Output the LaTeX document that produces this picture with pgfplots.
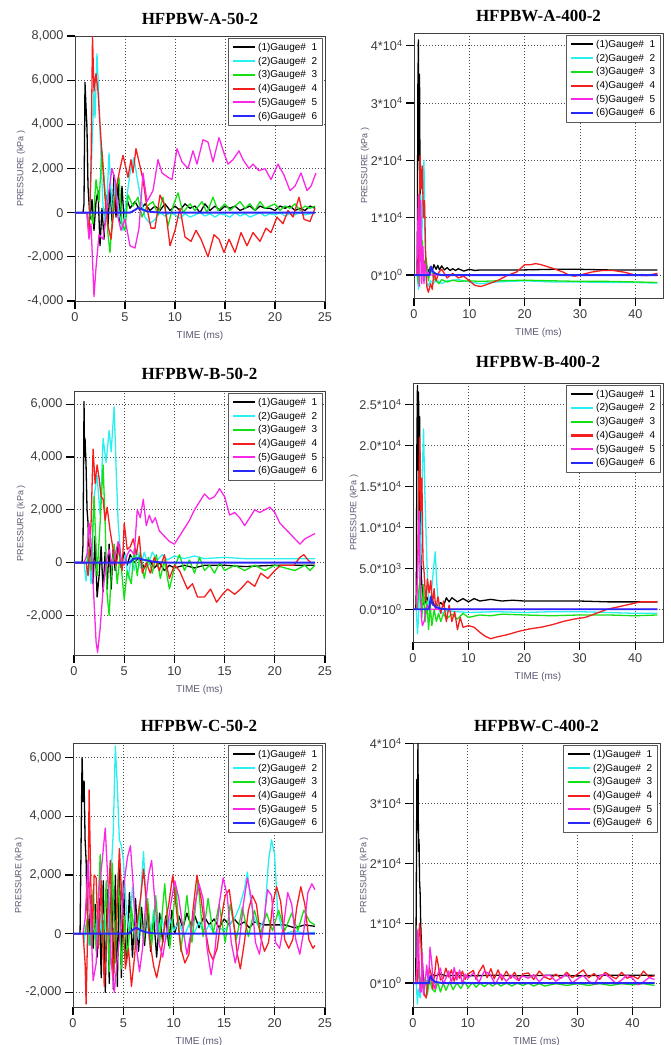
\documentclass[border=0pt]{standalone}
\usepackage{fontspec}
\setmainfont{Liberation Sans}
\newfontfamily\titlefont{Liberation Serif}
\usepackage{pgfplots}
\pgfplotsset{compat=1.18}

\definecolor{gcyan}{RGB}{40,240,240}
\definecolor{ggreen}{RGB}{20,225,20}
\definecolor{gred}{RGB}{245,30,30}
\definecolor{gmag}{RGB}{250,40,230}
\definecolor{gblue}{RGB}{40,40,250}
\definecolor{labcol}{RGB}{95,88,115}
\definecolor{tickcol}{RGB}{60,60,60}

\tikzset{
  g1/.style={black, line width=1.3pt},
  g2/.style={gcyan, line width=1.3pt},
  g3/.style={ggreen, line width=1.3pt},
  g4/.style={gred, line width=1.3pt},
  g5/.style={gmag, line width=1.3pt},
  g6/.style={gblue, line width=1.9pt},
}

\pgfplotsset{
  legend image code/.code={\draw[#1, line width=2.2pt] (0pt,0pt) -- (22pt,0pt);},
  every tick/.style={black, line width=1.2pt},
  panel/.style={
    scale only axis, anchor=north west,
    xmin=0, scaled y ticks=false, scaled x ticks=false,
    axis line style={black!75, line width=0.9pt},
    xtick pos=bottom, ytick pos=left, xtick align=outside, ytick align=outside,
    major tick length=8pt,
    grid=major, major grid style={black!70, line width=0.8pt, dash pattern=on 1pt off 2pt},
    ticklabel style={font=\fontsize{12.7}{14}\selectfont, text=tickcol},
    /pgf/number format/1000 sep={,}, /pgf/number format/assume math mode=true,
    title style={font=\titlefont\bfseries\fontsize{17}{18}\selectfont, at={(0.5,1)}, anchor=base, inner sep=0pt, yshift=6pt},
    xlabel={TIME (ms)},
    xlabel style={font=\fontsize{10}{11}\selectfont, text=labcol, at={(axis description cs:0.5,0)}, anchor=center, yshift=-35pt},
    ylabel={PRESSURE (kPa )},
    legend cell align=left,
    legend style={at={(0.992,0.992)}, anchor=north east, draw=black!65, line width=0.8pt, fill=white,
      font=\fontsize{10}{11}\selectfont, nodes={inner sep=2.5pt}},
    legend entries={(1)Gauge\#\ \ 1,(2)Gauge\#\ \ 2,(3)Gauge\#\ \ 3,(4)Gauge\#\ \ 4,(5)Gauge\#\ \ 5,(6)Gauge\#\ \ 6},
    no marks,
  },
  yl/.style={ylabel style={font=\fontsize{9}{10}\selectfont, text=labcol, at={(axis description cs:#1,0.5)}, anchor=center}},
  p50/.style={xmax=25, xtick={0,5,...,25}},
  p400/.style={xmax=45, xtick={0,10,...,40}},
}

\begin{document}
\begin{tikzpicture}[line join=round]
\path[use as bounding box] (0,0) rectangle (671pt,-1045pt);

% ---------------- HFPBW-A-50-2
\begin{axis}[panel, p50, yl=-0.216, at={(75pt,-36pt)}, width=250pt, height=265pt,
  ymin=-4000, ymax=8000, ytick={-4000,-2000,...,8000}, title={HFPBW-A-50-2}]
\addplot[g1] coordinates {(0,0)(0.8,0)(0.9,400)(1.0,5900)(1.1,4800)(1.2,3800)(1.3,1200)(1.5,-300)(1.7,600)(1.9,-800)(2.1,500)(2.3,1000)(2.5,-1500)(2.7,200)(2.9,-1200)(3.1,800)(3.3,-600)(3.5,1200)(3.7,-400)(3.9,1700)(4.1,-200)(4.3,1500)(4.5,-500)(4.7,1200)(4.9,-300)(5.2,600)(5.5,200)(6,500)(6.5,100)(7,400)(7.5,100)(8,300)(8.5,100)(9,400)(9.5,100)(10,300)(10.5,100)(11,400)(11.5,200)(12,300)(12.5,0)(13,400)(13.5,100)(14,300)(14.5,100)(15,300)(15.5,200)(16,300)(16.5,100)(17,200)(17.5,300)(18,100)(18.5,300)(19,200)(19.5,200)(20,100)(20.5,300)(21,200)(21.5,300)(22,100)(22.5,200)(23,100)(23.5,300)(24,200)};
\addplot[g2] coordinates {(0,0)(1.2,0)(1.3,-600)(1.5,300)(1.7,3000)(1.9,5500)(2.0,4300)(2.2,7200)(2.4,5000)(2.6,2500)(2.8,300)(3.0,-500)(3.2,600)(3.4,2700)(3.6,1000)(3.8,-300)(4.0,1500)(4.2,600)(4.5,-200)(4.8,-800)(5.1,400)(5.5,1800)(5.9,2500)(6.2,1600)(6.6,600)(7.0,-200)(7.5,-500)(8.0,-300)(8.5,0)(9,-150)(9.5,0)(10,-100)(10.5,-250)(11,-50)(11.5,-200)(12,-100)(12.5,0)(13,-150)(13.5,-50)(14,-200)(14.5,-50)(15,-100)(15.5,-200)(16,0)(16.5,-150)(17,-50)(17.5,-200)(18,-100)(18.5,0)(19,-150)(19.5,-50)(20,-100)(20.5,0)(21,-150)(21.5,-50)(22,-100)(22.5,0)(23,-100)(23.5,-50)(24,0)};
\addplot[g3] coordinates {(0,0)(1.5,0)(1.8,-500)(2.1,1500)(2.4,500)(2.7,2800)(3.0,1000)(3.3,-1000)(3.5,-1800)(3.8,200)(4.1,1000)(4.4,1600)(4.7,-500)(5.0,-800)(5.3,800)(5.8,300)(6.3,700)(6.7,-200)(7.2,300)(7.8,500)(8.3,-100)(8.8,700)(9.3,-600)(9.8,300)(10.3,900)(10.8,0)(11.5,400)(12,100)(12.7,500)(13.2,0)(13.8,700)(14.3,100)(15,400)(15.5,100)(16,300)(16.5,500)(17,200)(17.5,400)(18,100)(18.5,500)(19,200)(19.5,300)(20,400)(20.5,100)(21,300)(21.5,200)(22,400)(22.5,100)(23,300)(23.5,200)(24,300)};
\addplot[g4] coordinates {(0,0)(1.2,0)(1.4,-1100)(1.6,2000)(1.75,8000)(1.9,5500)(2.1,6300)(2.3,5500)(2.5,4000)(2.8,2000)(3.0,700)(3.3,-600)(3.6,-1200)(3.9,200)(4.2,1300)(4.5,2000)(4.8,2600)(5.0,2200)(5.3,1600)(5.6,2400)(5.8,1800)(6.1,2900)(6.4,2300)(6.8,1500)(7.2,200)(7.6,-700)(8.0,-700)(8.5,800)(9.0,300)(9.5,-1500)(10,-800)(10.5,200)(11,-1100)(11.6,-1300)(12.1,-800)(12.6,-1200)(13.3,-2000)(13.9,-1000)(14.4,-1200)(14.9,-1800)(15.4,-1200)(16,-1800)(16.6,-900)(17.2,-1500)(17.8,-900)(18.5,-1300)(19.1,-700)(19.6,-900)(20.2,-200)(20.8,-500)(21.3,100)(21.8,-200)(22.4,700)(22.9,-300)(23.5,-400)(24,200)};
\addplot[g5] coordinates {(0,0)(1.2,0)(1.4,-1200)(1.6,-500)(1.9,-3800)(2.1,-2500)(2.4,-1000)(2.8,-1200)(3.1,-200)(3.4,1000)(3.7,2000)(4.0,1500)(4.3,-200)(4.6,-800)(5.0,-300)(5.5,-1500)(6.0,-1600)(6.4,-700)(6.8,1800)(7.2,500)(7.8,1000)(8.3,2400)(8.7,1800)(9.3,1600)(9.7,1500)(10.2,2900)(10.7,2300)(11.3,2000)(11.8,2800)(12.2,2200)(12.8,3300)(13.3,3200)(13.8,2300)(14.4,3400)(14.9,2700)(15.3,2200)(15.8,2400)(16.4,2800)(16.8,2400)(17.4,2000)(17.8,2200)(18.4,1900)(19.0,2000)(19.6,1500)(20.3,2200)(20.9,1700)(21.5,1000)(22.0,1200)(22.6,1800)(23.2,1000)(23.6,1200)(24.1,1800)};
\addplot[g6] coordinates {(0,0)(5.5,0)(6.0,120)(6.3,220)(6.7,150)(7.2,60)(8,20)(9,0)(24,0)};
\end{axis}

% ---------------- HFPBW-A-400-2
\begin{axis}[panel, p400, yl=-0.197, at={(414pt,-33pt)}, width=249pt, height=265pt,
  ymin=-4000, ymax=42200, ytick={0,10000,...,40000},
  yticklabels={0*10\textsuperscript{0},1*10\textsuperscript{4},2*10\textsuperscript{4},3*10\textsuperscript{4},4*10\textsuperscript{4}},
  title={HFPBW-A-400-2}]
\addplot[g1] coordinates {(0,0)(0.5,0)(0.6,3500)(0.7,33000)(0.8,41000)(0.9,20000)(1.0,35000)(1.1,15000)(1.2,5000)(1.4,2000)(1.6,3000)(1.8,500)(2,2500)(2.3,1500)(2.6,500)(3,1500)(3.3,700)(3.6,1800)(4,1000)(4.3,1700)(4.6,900)(5,1600)(5.5,900)(6,1300)(6.5,800)(7,1100)(7.5,800)(8,1100)(9,700)(10,1000)(11,800)(12,900)(15,900)(20,900)(25,1000)(30,1000)(35,900)(40,900)(44,900)};
\addplot[g2] coordinates {(0,0)(0.6,0)(0.8,-2500)(1.0,5000)(1.2,14000)(1.4,5000)(1.6,15000)(1.8,20000)(2.0,5000)(2.2,-1000)(2.5,-2000)(3,-1000)(3.5,-1500)(4,-800)(5,-1500)(6,-1000)(8,-800)(10,-1200)(12,-1500)(15,-1200)(20,-1000)(25,-1200)(30,-1200)(35,-1300)(40,-1300)(44,-1400)};
\addplot[g3] coordinates {(0,0)(0.6,0)(0.8,-1500)(1.0,6000)(1.2,3000)(1.5,6000)(1.8,1000)(2.2,3000)(2.6,-1000)(3,1500)(3.5,-500)(4,-1000)(4.5,-1500)(5,-800)(6,-1200)(7,-900)(8,-1100)(10,-1000)(12,-1100)(15,-1000)(20,-900)(25,-1000)(30,-1100)(35,-1100)(40,-1200)(44,-1300)};
\addplot[g4] coordinates {(0,0)(0.7,0)(0.9,5000)(1.1,20800)(1.3,15000)(1.5,19000)(1.7,10000)(1.9,13000)(2.1,4000)(2.3,-2000)(2.6,-3000)(3,-1500)(3.3,-2500)(3.6,500)(4,-1000)(4.5,500)(5,1000)(6,-500)(7,300)(8,-500)(9,-200)(10,-1000)(11,-1800)(12,-2000)(13,-1700)(15,-1000)(17,0)(18.5,500)(20,1800)(21,1800)(22,2000)(23,1800)(25,1200)(27,500)(28,0)(29,-200)(30,0)(32,500)(34,800)(36,800)(38,500)(40,0)(42,-100)(44,300)};
\addplot[g5] coordinates {(0,0)(0.5,0)(0.8,14000)(1.0,-2000)(1.2,13000)(1.4,-1500)(1.6,5000)(1.8,-1500)(2.0,2000)(2.3,0)(2.6,500)(3,0)(44,0)};
\addplot[g6] coordinates {(0,0)(2.8,0)(3.1,1500)(3.4,600)(4,200)(5,0)(44,0)};
\end{axis}

% ---------------- HFPBW-B-50-2
\begin{axis}[panel, p50, yl=-0.211, at={(74pt,-391pt)}, width=251pt, height=264pt,
  ymin=-3500, ymax=6500, ytick={-2000,0,...,6000}, title={HFPBW-B-50-2}]
\addplot[g1] coordinates {(0,0)(0.8,0)(0.9,700)(1.0,6100)(1.05,4000)(1.1,4700)(1.2,3700)(1.3,2000)(1.4,1500)(1.5,-200)(1.7,600)(1.9,-800)(2.1,1000)(2.3,-1300)(2.5,-500)(2.7,600)(2.9,-1100)(3.1,400)(3.3,-1000)(3.5,700)(3.7,-1000)(3.9,500)(4.1,-300)(4.4,700)(4.7,-200)(5.0,400)(5.3,-100)(5.6,300)(6,0)(6.5,200)(7,-200)(7.5,100)(8,-200)(8.5,0)(9,-300)(9.5,-100)(10,-200)(11,-100)(12,-200)(13,-100)(15,-100)(17,-150)(20,-100)(22,-100)(24,-100)};
\addplot[g2] coordinates {(0,0)(1.0,0)(1.2,-700)(1.4,600)(1.7,-800)(2.0,2500)(2.3,3300)(2.6,1800)(2.9,4700)(3.2,3800)(3.5,5000)(3.7,4200)(4.0,5900)(4.2,3500)(4.4,1500)(4.6,500)(4.8,-200)(5.1,300)(5.4,-600)(5.7,200)(6.0,-300)(6.3,500)(6.6,-200)(7.0,400)(7.4,-100)(7.8,400)(8.3,100)(8.8,300)(9.3,100)(10,250)(11,150)(12,250)(13,150)(15,200)(17,150)(20,150)(22,150)(24,150)};
\addplot[g3] coordinates {(0,0)(1.3,0)(1.5,500)(1.7,-300)(2.0,2500)(2.3,-500)(2.6,1500)(2.9,3700)(3.1,1500)(3.3,-1200)(3.5,-2000)(3.7,-500)(4.0,700)(4.3,-800)(4.6,300)(5.0,-1400)(5.3,-300)(5.7,-800)(6.0,500)(6.3,-500)(6.6,400)(7.0,-600)(7.4,200)(7.8,-400)(8.2,300)(8.6,-600)(9.0,100)(9.5,-1000)(10,-200)(10.5,300)(11,-300)(11.5,100)(12,-400)(12.5,200)(13,-300)(13.5,-100)(14,-400)(14.5,0)(15,-300)(16,-100)(17,-300)(18,-100)(19,-300)(20,-100)(21,-200)(22,-300)(23,-100)(23.5,-300)(24,-100)};
\addplot[g4] coordinates {(0,0)(1.2,0)(1.4,-500)(1.7,1500)(1.9,4300)(2.1,3000)(2.3,3700)(2.5,3200)(2.7,2500)(2.9,2400)(3.1,1600)(3.3,2100)(3.6,1200)(3.9,500)(4.2,-100)(4.5,700)(4.8,-300)(5.0,1500)(5.3,500)(5.6,600)(5.9,900)(6.2,300)(6.5,1000)(6.8,-400)(7.2,0)(7.6,-400)(8.0,200)(8.5,-300)(9.0,300)(9.5,-600)(10,-100)(10.5,-300)(11.3,-1000)(11.8,-800)(12.3,-1300)(13,-1300)(13.6,-1000)(14.2,-1500)(14.8,-1200)(15.3,-1000)(16,-1200)(16.6,-1000)(17.3,-700)(18,-900)(18.6,-400)(19.3,-600)(20,-300)(20.6,-100)(21.3,-100)(21.9,-100)(22.5,200)(22.9,300)(23.3,100)(23.6,0)(24,0)};
\addplot[g5] coordinates {(0,0)(1.0,0)(1.3,300)(1.5,1500)(1.7,700)(2.0,-1500)(2.2,-3000)(2.35,-3400)(2.6,-2500)(2.9,-1000)(3.2,0)(3.5,500)(3.8,-100)(4.1,300)(4.4,800)(4.7,100)(5.0,-100)(5.3,300)(5.6,500)(6.0,300)(6.3,2000)(6.6,1700)(6.9,2400)(7.2,1400)(7.5,1800)(7.8,1500)(8.1,1700)(8.5,1200)(9,1000)(9.5,800)(10,700)(10.5,1000)(11,1300)(11.5,1600)(12,2000)(12.5,2300)(13,2600)(13.5,2400)(14,2500)(14.5,2800)(15,2500)(15.5,1800)(16,1900)(16.5,1700)(17,1400)(17.5,1700)(18,2000)(18.5,1900)(19,2000)(19.5,2100)(20,1900)(20.5,1500)(21,1300)(21.5,1100)(22,900)(22.5,700)(23,900)(23.5,1000)(24,1100)};
\addplot[g6] coordinates {(0,0)(5.5,0)(6.0,150)(6.4,170)(7,100)(8,30)(9,0)(24,0)};
\end{axis}

% ---------------- HFPBW-B-400-2
\begin{axis}[panel, p400, yl=-0.236, at={(413pt,-383pt)}, width=250pt, height=259pt,
  ymin=-4000, ymax=27600, ytick={0,5000,...,25000},
  yticklabels={0.0*10\textsuperscript{0},5.0*10\textsuperscript{3},1.0*10\textsuperscript{4},1.5*10\textsuperscript{4},2.0*10\textsuperscript{4},2.5*10\textsuperscript{4}},
  title={HFPBW-B-400-2}, title style={yshift=4pt}]
\addplot[g1] coordinates {(0,0)(0.5,0)(0.6,2500)(0.7,20000)(0.8,27300)(0.9,17000)(1.0,26500)(1.1,12000)(1.2,23500)(1.3,10000)(1.5,4000)(1.7,2000)(2,500)(2.5,1500)(3,500)(3.5,1000)(4,300)(4.5,500)(5,800)(5.5,400)(6,1400)(6.5,900)(7,1400)(8,900)(9,1300)(10,900)(11,1300)(12,1000)(14,1200)(16,1000)(18,1100)(20,1000)(25,1000)(30,1000)(35,900)(40,900)(44,900)};
\addplot[g2] coordinates {(0,0)(0.6,0)(0.8,-3000)(1.0,-1000)(1.3,5000)(1.6,15000)(1.9,22000)(2.1,15000)(2.4,8000)(2.7,2000)(3.0,-500)(3.3,2000)(3.7,5000)(4.0,7000)(4.3,3000)(4.6,0)(5,-500)(6,-200)(8,-300)(10,-400)(15,-300)(20,-400)(25,-300)(30,-300)(35,-400)(40,-500)(44,-500)};
\addplot[g3] coordinates {(0,0)(0.8,0)(1.0,2000)(1.3,4000)(1.6,-1000)(1.9,3000)(2.2,-1500)(2.5,1000)(2.8,-2500)(3.1,500)(3.4,-2000)(3.8,0)(4.2,-1500)(4.6,-500)(5,-1500)(5.5,-500)(6,-1200)(7,-600)(8,-1200)(9,-500)(10,-1000)(12,-700)(14,-800)(16,-600)(20,-700)(25,-800)(30,-700)(35,-700)(40,-800)(44,-700)};
\addplot[g4] coordinates {(0,0)(0.6,0)(0.8,4000)(1.0,12000)(1.2,21000)(1.4,12000)(1.6,16000)(1.8,6000)(2.0,4500)(2.3,1000)(2.6,3700)(2.9,2000)(3.2,3500)(3.5,500)(3.8,2500)(4.1,0)(4.5,1500)(5,-500)(5.5,1000)(6,-1500)(6.5,500)(7,-1500)(7.5,-300)(8,-2500)(8.5,-1000)(9,-2200)(10,-2000)(11,-2200)(12,-2800)(13,-3300)(14,-3600)(15,-3400)(17,-3100)(19,-2700)(21,-2400)(23,-2200)(25,-1900)(27,-1500)(29,-1200)(31,-1000)(33,-500)(35,0)(37,300)(39,600)(41,900)(44,900)};
\addplot[g5] coordinates {(0,0)(0.6,0)(0.9,6000)(1.1,12000)(1.3,3000)(1.5,-1000)(1.7,-2000)(2.0,-1500)(2.3,0)(2.6,500)(3,0)(44,0)};
\addplot[g6] coordinates {(0,0)(2.9,0)(3.2,1500)(3.5,700)(4,300)(5,50)(6,0)(44,0)};
\end{axis}

% ---------------- HFPBW-C-50-2
\begin{axis}[panel, p50, yl=-0.214, at={(73pt,-743pt)}, width=252pt, height=264pt,
  ymin=-2500, ymax=6500, ytick={-2000,0,...,6000}, title={HFPBW-C-50-2}]
\addplot[g1] coordinates {(0,0)(0.7,0)(0.8,3000)(0.9,6000)(1.0,4500)(1.1,5200)(1.2,3200)(1.3,2500)(1.4,800)(1.6,0)(1.8,1300)(2.0,-500)(2.2,1000)(2.4,-800)(2.6,1200)(2.8,-1500)(3.0,1800)(3.2,-2000)(3.4,1500)(3.6,-1700)(3.8,2500)(4.0,-1900)(4.2,2000)(4.4,-1800)(4.6,2400)(4.8,-1500)(5.0,1800)(5.3,-1000)(5.6,1400)(5.9,-800)(6.2,1200)(6.5,-600)(6.8,900)(7.1,-400)(7.4,1000)(7.7,-600)(8.0,600)(8.3,-800)(8.6,700)(8.9,-300)(9.2,600)(9.5,-400)(9.8,800)(10.1,0)(10.5,600)(10.9,200)(11.3,700)(11.7,300)(12.1,600)(12.5,200)(13,600)(13.5,300)(14,500)(14.5,200)(15,500)(15.5,300)(16,500)(16.5,300)(17,400)(17.5,200)(18,400)(19,300)(20,300)(21,300)(22,200)(23,300)(24,250)};
\addplot[g2] coordinates {(0,0)(1.0,0)(1.1,-300)(1.3,300)(1.6,-400)(1.9,600)(2.2,-200)(2.5,800)(2.8,100)(3.1,700)(3.4,-300)(3.7,1500)(4.0,3500)(4.2,6400)(4.4,5000)(4.6,3200)(4.8,3000)(5.0,2500)(5.3,800)(5.6,0)(5.9,1600)(6.2,400)(6.5,-200)(6.8,1800)(7.0,2800)(7.3,600)(7.6,-300)(8.0,800)(8.4,-100)(8.8,600)(9.2,-200)(9.6,500)(10,100)(10.5,400)(11,-100)(11.5,300)(12,0)(12.5,400)(13,0)(13.5,300)(14,0)(14.5,200)(15,100)(15.5,300)(16,500)(16.5,900)(17,1500)(17.3,2100)(17.6,1200)(18,500)(18.5,200)(19,500)(19.4,2500)(19.7,3200)(20,2700)(20.3,800)(20.7,200)(21,0)(22,100)(23,0)(24,50)};
\addplot[g3] coordinates {(0,0)(1.2,0)(1.4,500)(1.7,-400)(2.0,1500)(2.3,-600)(2.7,2700)(3.0,-500)(3.3,1800)(3.6,-1300)(3.9,2400)(4.2,-1000)(4.5,2100)(4.8,-1200)(5.1,600)(5.4,-800)(5.8,900)(6.2,-500)(6.6,1000)(7.0,-300)(7.4,1200)(7.8,-400)(8.2,1300)(8.6,-300)(9.1,1700)(9.6,-500)(10.2,1600)(10.7,-600)(11.3,1300)(11.8,-300)(12.4,1800)(12.9,-100)(13.4,1200)(13.9,0)(14.5,1000)(15.1,-300)(15.6,1000)(16.2,-200)(16.8,900)(17.4,-100)(18,800)(18.6,0)(19.2,700)(19.8,100)(20.4,800)(21,100)(21.7,700)(22.3,100)(22.9,800)(23.5,400)(24,300)};
\addplot[g4] coordinates {(0,0)(1.0,0)(1.2,-1000)(1.3,-2400)(1.45,0)(1.6,4900)(1.75,2000)(1.9,-300)(2.1,2000)(2.3,1900)(2.5,-500)(2.8,1800)(3.1,-1800)(3.4,500)(3.7,2500)(4.0,-1500)(4.3,300)(4.6,2900)(4.9,800)(5.2,-1200)(5.5,-500)(5.8,-1800)(6.1,-800)(6.4,500)(6.7,1200)(7.0,2200)(7.3,1000)(7.6,-200)(8.0,-1100)(8.3,-1500)(8.7,-800)(9.1,300)(9.5,1000)(9.9,2000)(10.3,700)(10.7,-500)(11.1,-1000)(11.5,-700)(11.9,800)(12.3,2000)(12.7,1200)(13.1,200)(13.5,-600)(13.9,-900)(14.3,-500)(14.7,500)(15.1,1300)(15.5,1500)(15.9,500)(16.3,-700)(16.6,-1200)(17,-300)(17.4,800)(17.8,1300)(18.2,1000)(18.6,-100)(19,-600)(19.4,-300)(19.8,1000)(20.2,1600)(20.6,1100)(21,-200)(21.4,-500)(21.8,-200)(22.2,900)(22.6,1600)(23,1000)(23.4,-200)(23.8,-500)(24,-400)};
\addplot[g5] coordinates {(0,0)(1.0,0)(1.2,500)(1.5,2500)(1.7,1000)(2.0,-1600)(2.3,-1000)(2.6,1600)(2.9,2500)(3.2,3600)(3.5,1500)(3.8,-1000)(4.1,-2000)(4.4,-800)(4.8,400)(5.1,1800)(5.4,2600)(5.7,3000)(6.0,1500)(6.3,-500)(6.6,-1300)(6.9,-500)(7.2,1000)(7.5,2000)(7.8,2500)(8.1,1200)(8.5,-300)(8.9,-800)(9.3,100)(9.7,1000)(10.1,1800)(10.5,1200)(10.9,200)(11.3,-700)(11.7,0)(12.1,1000)(12.5,1700)(12.9,1200)(13.3,-500)(13.7,-1400)(14.1,-500)(14.5,1000)(14.9,1900)(15.3,1300)(15.7,-300)(16.1,-1000)(16.5,-300)(16.9,1000)(17.3,1900)(17.7,1200)(18.1,-300)(18.5,-700)(18.9,300)(19.3,1500)(19.7,1300)(20.1,-300)(20.5,-500)(20.9,300)(21.3,1400)(21.7,1000)(22.1,-200)(22.5,-700)(22.9,100)(23.3,1400)(23.7,1700)(24,1500)};
\addplot[g6] coordinates {(0,0)(5.5,0)(6.0,150)(6.3,200)(6.7,120)(7.2,50)(8,10)(9,0)(24,0)};
\end{axis}

% ---------------- HFPBW-C-400-2
\begin{axis}[panel, p400, yl=-0.198, at={(413pt,-743pt)}, width=247pt, height=264pt,
  ymin=-4000, ymax=40100, ytick={0,10000,...,40000},
  yticklabels={0*10\textsuperscript{0},1*10\textsuperscript{4},2*10\textsuperscript{4},3*10\textsuperscript{4},4*10\textsuperscript{4}},
  title={HFPBW-C-400-2}]
\addplot[g1] coordinates {(0,0)(0.5,0)(0.6,15000)(0.7,34000)(0.8,27000)(0.9,40000)(1.0,22000)(1.1,24000)(1.2,17000)(1.3,15000)(1.4,10000)(1.6,5000)(1.8,2000)(2.0,-500)(2.3,500)(2.6,-300)(3,800)(3.5,1500)(4,1200)(5,1500)(6,1200)(8,1300)(10,1200)(15,1300)(20,1200)(25,1300)(30,1200)(35,1300)(40,1300)(44,1300)};
\addplot[g2] coordinates {(0,0)(0.6,0)(0.8,-3500)(1.0,-1000)(1.3,-2500)(1.6,500)(2,-500)(2.5,300)(3,0)(44,0)};
\addplot[g3] coordinates {(0,0)(0.8,0)(1.0,3000)(1.3,-1000)(1.6,2000)(1.9,-1500)(2.2,1000)(2.6,-2000)(3.0,500)(3.5,-1000)(4,-1500)(4.5,200)(5,-1500)(5.5,0)(6,-1200)(6.7,200)(7.3,-1100)(8,0)(8.7,-900)(9.4,200)(10.1,-800)(10.8,100)(11.5,-700)(12.2,0)(13,-600)(13.8,0)(14.5,-500)(15.3,0)(16,-500)(17,0)(18,-500)(19,0)(20,-400)(21,0)(22,-500)(23,-100)(24,-500)(26,-100)(28,-400)(30,-100)(32,-400)(34,-100)(36,-400)(38,-100)(40,-300)(42,-100)(44,-400)};
\addplot[g4] coordinates {(0,0)(0.8,0)(1.0,5000)(1.2,10000)(1.4,8000)(1.6,3000)(1.8,-500)(2.1,-2000)(2.4,-2500)(2.7,0)(3.0,2500)(3.3,1500)(3.6,-1000)(4.0,2000)(4.3,4500)(4.6,3000)(5.0,500)(5.5,800)(6,2500)(6.5,1000)(7,2200)(7.5,300)(8,1800)(8.5,800)(9,2000)(9.5,600)(10,1500)(11,2100)(11.5,600)(12,1800)(12.8,3000)(13.5,900)(14.2,2400)(14.8,700)(15.5,2200)(16.2,500)(17,2000)(17.8,800)(18.5,1800)(19.3,400)(20,1500)(21,1700)(22,600)(23,2000)(24,1000)(25,600)(26,1500)(27,800)(28,1800)(29,900)(30,1500)(31,2200)(32,900)(33,1600)(34,600)(35,1800)(36,1200)(37,700)(38,1800)(39,800)(40,1200)(41,700)(42,2000)(43,1000)(44,1200)};
\addplot[g5] coordinates {(0,0)(0.5,0)(0.7,3000)(0.9,9000)(1.1,4000)(1.3,-1500)(1.5,-1500)(1.7,5000)(1.9,-2000)(2.2,0)(2.5,3000)(2.8,-200)(3.1,6000)(3.4,3500)(3.7,0)(4,-1000)(4.5,1500)(5,2500)(5.5,-200)(6,800)(6.5,2000)(7,0)(7.5,2600)(8,500)(8.5,2200)(9,-200)(9.5,1500)(10,800)(11,1700)(12,100)(13,2000)(14,1500)(15,-200)(16,1500)(17,300)(18,1300)(19,500)(20,1200)(21,800)(22,1400)(23,200)(24,1200)(25,1300)(26,300)(27,900)(28,1500)(29,0)(30,700)(31,1300)(32,300)(33,-200)(34,1200)(35,1500)(36,800)(37,-100)(38,500)(39,1300)(40,800)(41,-300)(42,200)(43,900)(44,600)};
\addplot[g6] coordinates {(0,0)(2.9,0)(3.2,1200)(3.5,600)(4,200)(5,50)(6,0)(44,0)};
\end{axis}
\end{tikzpicture}
\end{document}
